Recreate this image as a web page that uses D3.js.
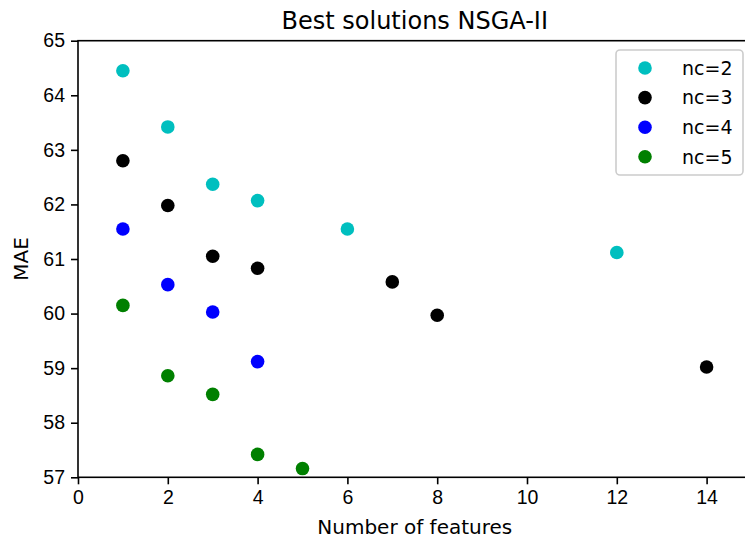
<!DOCTYPE html>
<html>
<head>
<meta charset="utf-8">
<script src="https://cdn.jsdelivr.net/npm/d3@7"></script>
<style>
  html, body { margin: 0; padding: 0; background: #fff; }
  svg { display: block; font-family: "DejaVu Sans", sans-serif; }
</style>
</head>
<body>
<svg id="chart" width="745" height="542"></svg>
<script>
// Number of features per solution, one array per cluster count
const featuresNc2 = [1, 2, 3, 4, 6, 12];
const maeNc2      = [64.45, 63.42, 62.37, 62.07, 61.55, 61.12];

const featuresNc3 = [1, 2, 3, 4, 7, 8, 14];
const maeNc3      = [62.80, 61.98, 61.05, 60.83, 60.58, 59.97, 59.02];

const featuresNc4 = [1, 2, 3, 4];
const maeNc4      = [61.55, 60.53, 60.03, 59.12];

const featuresNc5 = [1, 2, 3, 4, 5];
const maeNc5      = [60.15, 58.86, 58.52, 57.42, 57.16];

const seriesNames  = ["nc=2", "nc=3", "nc=4", "nc=5"];
const seriesColors = ["#00bfbf", "#000000", "#0000ff", "#008000"];
const xTicks = [0, 2, 4, 6, 8, 10, 12, 14];
const yTicks = [57, 58, 59, 60, 61, 62, 63, 64, 65];

const series = [
  { name: seriesNames[0], color: seriesColors[0], x: featuresNc2, y: maeNc2 },
  { name: seriesNames[1], color: seriesColors[1], x: featuresNc3, y: maeNc3 },
  { name: seriesNames[2], color: seriesColors[2], x: featuresNc4, y: maeNc4 },
  { name: seriesNames[3], color: seriesColors[3], x: featuresNc5, y: maeNc5 }
];

const svg = d3.select("#chart");
const plotLeft = 78, plotTop = 40.7, plotBottom = 477.3;
const x = d3.scaleLinear().domain([0, 15]).range([plotLeft, plotLeft + 15 * 44.9]);
const y = d3.scaleLinear().domain([57, 65]).range([plotBottom, plotTop]);
const plotRight = x(15);

// Points
const g = svg.append("g");
series.forEach(s => {
  g.selectAll(null)
    .data(s.x.map((v, i) => [v, s.y[i]]))
    .enter().append("circle")
    .attr("cx", d => x(d[0]))
    .attr("cy", d => y(d[1]))
    .attr("r", 6.8)
    .attr("fill", s.color);
});

// Axes
const xAxis = d3.axisBottom(x).tickValues(xTicks).tickSize(7).tickPadding(6).tickFormat(d3.format("d"));
const yAxis = d3.axisLeft(y).tickValues(yTicks).tickSize(7).tickPadding(6).tickFormat(d3.format("d"));

const gx = svg.append("g").attr("transform", `translate(0,${plotBottom})`).call(xAxis);
const gy = svg.append("g").attr("transform", `translate(${plotLeft},0)`).call(yAxis);
[gx, gy].forEach(a => {
  a.select(".domain").remove();
  a.selectAll(".tick line").attr("stroke", "#000").attr("stroke-width", 1.6);
  a.selectAll(".tick text").attr("fill", "#000").style("font-size", "19.5px");
});

// Frame
svg.append("rect")
  .attr("x", plotLeft).attr("y", plotTop)
  .attr("width", plotRight - plotLeft).attr("height", plotBottom - plotTop)
  .attr("fill", "none").attr("stroke", "#000").attr("stroke-width", 1.6);

// Title and labels
svg.append("text")
  .attr("x", (plotLeft + plotRight) / 2).attr("y", 29)
  .attr("text-anchor", "middle").style("font-size", "24px")
  .text("Best solutions NSGA-II");

svg.append("text")
  .attr("x", (plotLeft + plotRight) / 2).attr("y", 534)
  .attr("text-anchor", "middle").style("font-size", "20px")
  .text("Number of features");

svg.append("text")
  .attr("transform", `translate(28,${(plotTop + plotBottom) / 2}) rotate(-90)`)
  .attr("text-anchor", "middle").style("font-size", "20px")
  .text("MAE");

// Legend
const lg = svg.append("g");
lg.append("rect")
  .attr("x", 616).attr("y", 50).attr("width", 127).attr("height", 125)
  .attr("rx", 4).attr("fill", "#fff").attr("fill-opacity", 0.8)
  .attr("stroke", "#cccccc").attr("stroke-width", 1.6);
series.forEach((s, i) => {
  const yy = 68 + i * 29.6;
  lg.append("circle").attr("cx", 645).attr("cy", yy).attr("r", 6.8).attr("fill", s.color);
  lg.append("text").attr("x", 682).attr("y", yy).attr("dy", "0.36em")
    .style("font-size", "19px").text(s.name);
});
</script>
</body>
</html>
